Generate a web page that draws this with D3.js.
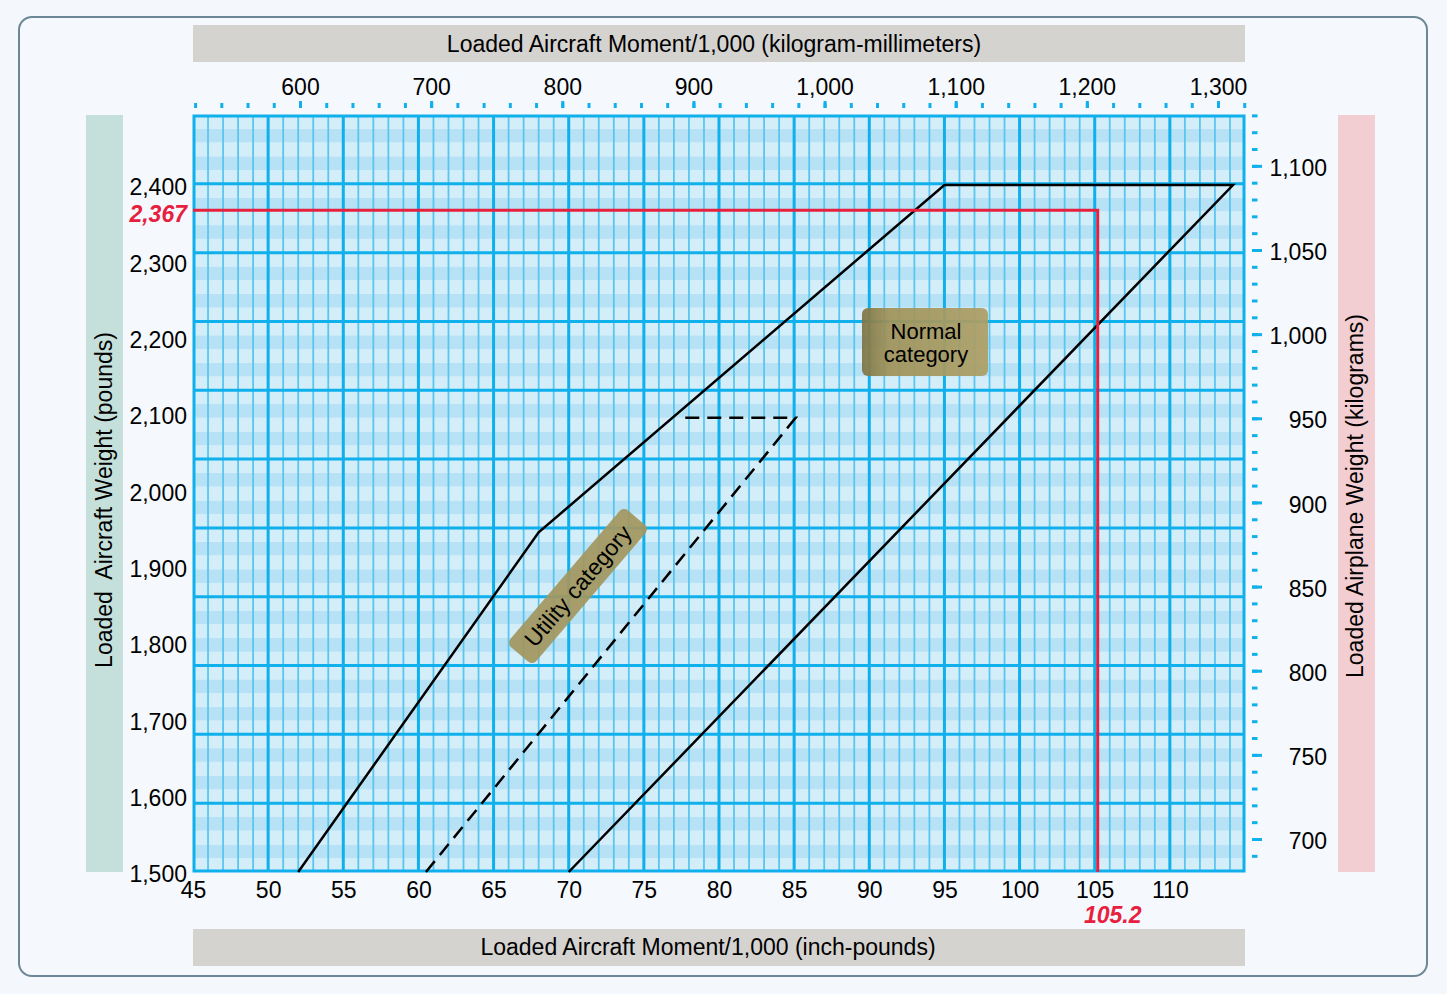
<!DOCTYPE html>
<html>
<head>
<meta charset="utf-8">
<script src="https://cdn.jsdelivr.net/npm/d3@7"></script>
<style>
  html, body { margin: 0; padding: 0; background: #f4f8fc; }
  svg { display: block; font-family: "Liberation Sans", Arial, Helvetica, sans-serif; }
</style>
</head>
<body>
<div id="chart"></div>
<script>
'use strict';

// tick labels
const momentTicks = [45, 50, 55, 60, 65, 70, 75, 80, 85, 90, 95, 100, 105, 110];
const weightTicks = [1500, 1600, 1700, 1800, 1900, 2000, 2100, 2200, 2300, 2400];
const kgTicks = [700, 750, 800, 850, 900, 950, 1000, 1050, 1100];
const kgmmTicks = [600, 700, 800, 900, 1000, 1100, 1200, 1300];

// envelope outlines (moment/1000 in-lb, weight lb)
const normalMoment = [52, 68, 95, 114.2, 70];
const normalWeight = [1500, 1945, 2400, 2400, 1500];
const utilityMoment = [60.5, 85.1, 77.5];
const utilityWeight = [1500, 2095, 2095];

// worked example
const exampleWeight = 2367;
const exampleMoment = 105.2;

const LB_PER_KG = 2.20462;

const W = 1447, H = 994;
const pLeft = 193, pRight = 1245, pTop = 115, pBottom = 872;
const cyan = "#0fb0ec", cyanLight = "#5ac6f0";
const red = "#e8203f";
const fmt = d3.format(",");

const svg = d3.select("#chart").append("svg")
  .attr("width", W)
  .attr("height", H);

// scales
const x = d3.scaleLinear().domain([45, 115]).range([pLeft, pRight]);
const y = d3.scaleLinear().domain([1500, 2400]).range([pBottom, 185]);
const yKg = d3.scaleLinear().domain([1500 / LB_PER_KG, 2400 / LB_PER_KG]).range([pBottom, 185]);
const xTop = d3.scaleLinear().domain([600, 1300]).range([300, 1218]);
// background paper grid: 11 bands of 5 stripes
const gy = d3.scaleLinear().domain([0, 55]).range([pBottom, pTop]);

// outer frame
svg.append("rect")
  .attr("x", 19).attr("y", 17)
  .attr("width", 1408).attr("height", 959)
  .attr("rx", 13)
  .attr("fill", "#f5f9fd")
  .attr("stroke", "#6c8795")
  .attr("stroke-width", 2);

// title bands
svg.append("rect").attr("x", pLeft).attr("y", 25).attr("width", pRight - pLeft).attr("height", 37).attr("fill", "#d5d3d0");
svg.append("rect").attr("x", pLeft).attr("y", 929).attr("width", pRight - pLeft).attr("height", 37).attr("fill", "#d5d3d0");
svg.append("rect").attr("x", 86).attr("y", pTop).attr("width", 37).attr("height", pBottom - pTop).attr("fill", "#c5e0da");
svg.append("rect").attr("x", 1338).attr("y", pTop).attr("width", 37).attr("height", pBottom - pTop).attr("fill", "#f2cdd1");

svg.append("text")
  .attr("x", 714).attr("y", 52)
  .attr("text-anchor", "middle")
  .style("font-size", "23px")
  .text("Loaded Aircraft Moment/1,000 (kilogram-millimeters)");

svg.append("text")
  .attr("x", 708).attr("y", 955)
  .attr("text-anchor", "middle")
  .style("font-size", "23px")
  .text("Loaded Aircraft Moment/1,000 (inch-pounds)");

svg.append("text")
  .attr("transform", "translate(112,500) rotate(-90)")
  .attr("text-anchor", "middle")
  .style("font-size", "23px")
  .style("white-space", "pre")
  .text("Loaded  Aircraft Weight (pounds)");

svg.append("text")
  .attr("transform", "translate(1363,496) rotate(-90)")
  .attr("text-anchor", "middle")
  .style("font-size", "23px")
  .text("Loaded Airplane Weight (kilograms)");

// ****************** grid ***************************

const grid = svg.append("g");

// alternating stripes
grid.selectAll("rect.stripe")
  .data(d3.range(55))
  .enter().append("rect")
  .attr("class", "stripe")
  .attr("x", pLeft)
  .attr("width", pRight - pLeft)
  .attr("y", d => gy(d + 1))
  .attr("height", d => gy(d) - gy(d + 1))
  .attr("fill", d => (d % 5) % 2 === 0 ? "#d3edf9" : "#b7e2f5");

// vertical lines every 1,000 in-lb, heavy every 5,000
const vLines = d3.range(46, 115);
grid.selectAll("line.v")
  .data(vLines)
  .enter().append("line")
  .attr("class", "v")
  .attr("x1", d => x(d)).attr("x2", d => x(d))
  .attr("y1", pTop).attr("y2", pBottom)
  .attr("stroke", d => d % 5 === 0 ? cyan : cyanLight)
  .attr("stroke-width", d => d % 5 === 0 ? 3 : 1.8);

// horizontal heavy lines
grid.selectAll("line.h")
  .data(d3.range(5, 55, 5))
  .enter().append("line")
  .attr("class", "h")
  .attr("x1", pLeft).attr("x2", pRight)
  .attr("y1", d => gy(d)).attr("y2", d => gy(d))
  .attr("stroke", cyan)
  .attr("stroke-width", 3);

grid.append("rect")
  .attr("x", pLeft + 1).attr("y", pTop + 1)
  .attr("width", pRight - pLeft - 2).attr("height", pBottom - pTop - 2)
  .attr("fill", "none")
  .attr("stroke", cyan)
  .attr("stroke-width", 3);

// ****************** axes ***************************

function styleAxis(g) {
  g.select(".domain").remove();
  g.selectAll("text").style("font-size", "23px").attr("fill", "#000");
  g.selectAll("line").attr("stroke", cyan).attr("stroke-width", 3);
}

// bottom: inch-pounds
svg.append("g")
  .attr("transform", `translate(0,${pBottom})`)
  .call(d3.axisBottom(x).tickValues(momentTicks).tickSize(0).tickPadding(10))
  .call(styleAxis);

// left: pounds
svg.append("g")
  .attr("transform", `translate(${pLeft},0)`)
  .call(d3.axisLeft(y).tickValues(weightTicks).tickFormat(fmt).tickSize(0).tickPadding(6))
  .call(styleAxis)
  .selectAll("text").attr("dy", "0.42em");

// top: kilogram-millimeters
svg.append("g")
  .attr("transform", "translate(0,108)")
  .call(d3.axisTop(xTop).tickValues(d3.range(520, 1321, 20)).tickSize(5).tickFormat(""))
  .call(styleAxis);
svg.append("g")
  .attr("transform", "translate(0,108)")
  .call(d3.axisTop(xTop).tickValues(kgmmTicks).tickFormat(fmt).tickSize(7).tickPadding(6))
  .call(styleAxis);

// right: kilograms
svg.append("g")
  .attr("transform", "translate(1252,0)")
  .call(d3.axisRight(yKg).tickValues(d3.range(690, 1131, 10)).tickSize(5.5).tickFormat(""))
  .call(styleAxis);
const rightAxis = svg.append("g")
  .attr("transform", "translate(1252,0)")
  .call(d3.axisRight(yKg).tickValues(kgTicks).tickFormat(fmt).tickSize(10))
  .call(styleAxis);
rightAxis.selectAll("text")
  .attr("x", 75)
  .attr("dy", "0.42em")
  .attr("text-anchor", "end");

// ****************** envelopes ***************************

const line = d3.line()
  .x(d => x(d[0]))
  .y(d => y(d[1]));

svg.append("path")
  .datum(d3.zip(normalMoment, normalWeight))
  .attr("d", line)
  .attr("fill", "none")
  .attr("stroke", "#000")
  .attr("stroke-width", 2.5)
  .attr("stroke-linejoin", "miter");

svg.append("path")
  .datum(d3.zip(utilityMoment, utilityWeight))
  .attr("d", line)
  .attr("fill", "none")
  .attr("stroke", "#000")
  .attr("stroke-width", 2.5)
  .attr("stroke-dasharray", "14,8");

// example reading lines
svg.append("path")
  .datum([[45, exampleWeight], [exampleMoment, exampleWeight], [exampleMoment, 1500]])
  .attr("d", line)
  .attr("fill", "none")
  .attr("stroke", red)
  .attr("stroke-width", 3);

svg.append("text")
  .attr("x", pLeft - 6)
  .attr("y", y(exampleWeight))
  .attr("dy", "0.5em")
  .attr("text-anchor", "end")
  .attr("fill", red)
  .style("font-size", "23px")
  .style("font-weight", "bold")
  .style("font-style", "italic")
  .text(fmt(exampleWeight));

svg.append("text")
  .attr("x", x(exampleMoment) + 15)
  .attr("y", 923)
  .attr("text-anchor", "middle")
  .attr("fill", red)
  .style("font-size", "23px")
  .style("font-weight", "bold")
  .style("font-style", "italic")
  .text(exampleMoment);

// ****************** category labels ***************************

const defs = svg.append("defs");
const grad = defs.append("linearGradient").attr("id", "boxGrad");
grad.append("stop").attr("offset", "0%").attr("stop-color", "#7f7444");
grad.append("stop").attr("offset", "22%").attr("stop-color", "#a0935a");
grad.append("stop").attr("offset", "100%").attr("stop-color", "#ad9f65");

const normal = svg.append("g");
normal.append("rect")
  .attr("x", 862).attr("y", 308)
  .attr("width", 126).attr("height", 68)
  .attr("rx", 6)
  .attr("fill", "url(#boxGrad)")
  .attr("opacity", 0.93);
normal.append("text")
  .attr("x", 926).attr("y", 339)
  .attr("text-anchor", "middle")
  .style("font-size", "22px")
  .text("Normal");
normal.append("text")
  .attr("x", 926).attr("y", 362)
  .attr("text-anchor", "middle")
  .style("font-size", "22px")
  .text("category");

const utility = svg.append("g")
  .attr("transform", "translate(578,586) rotate(-49.5)");
utility.append("rect")
  .attr("x", -90).attr("y", -17)
  .attr("width", 180).attr("height", 34)
  .attr("rx", 6)
  .attr("fill", "#a39760")
  .attr("opacity", 0.93);
utility.append("text")
  .attr("x", 0).attr("y", 8)
  .attr("text-anchor", "middle")
  .style("font-size", "23px")
  .text("Utility category");
</script>
</body>
</html>
